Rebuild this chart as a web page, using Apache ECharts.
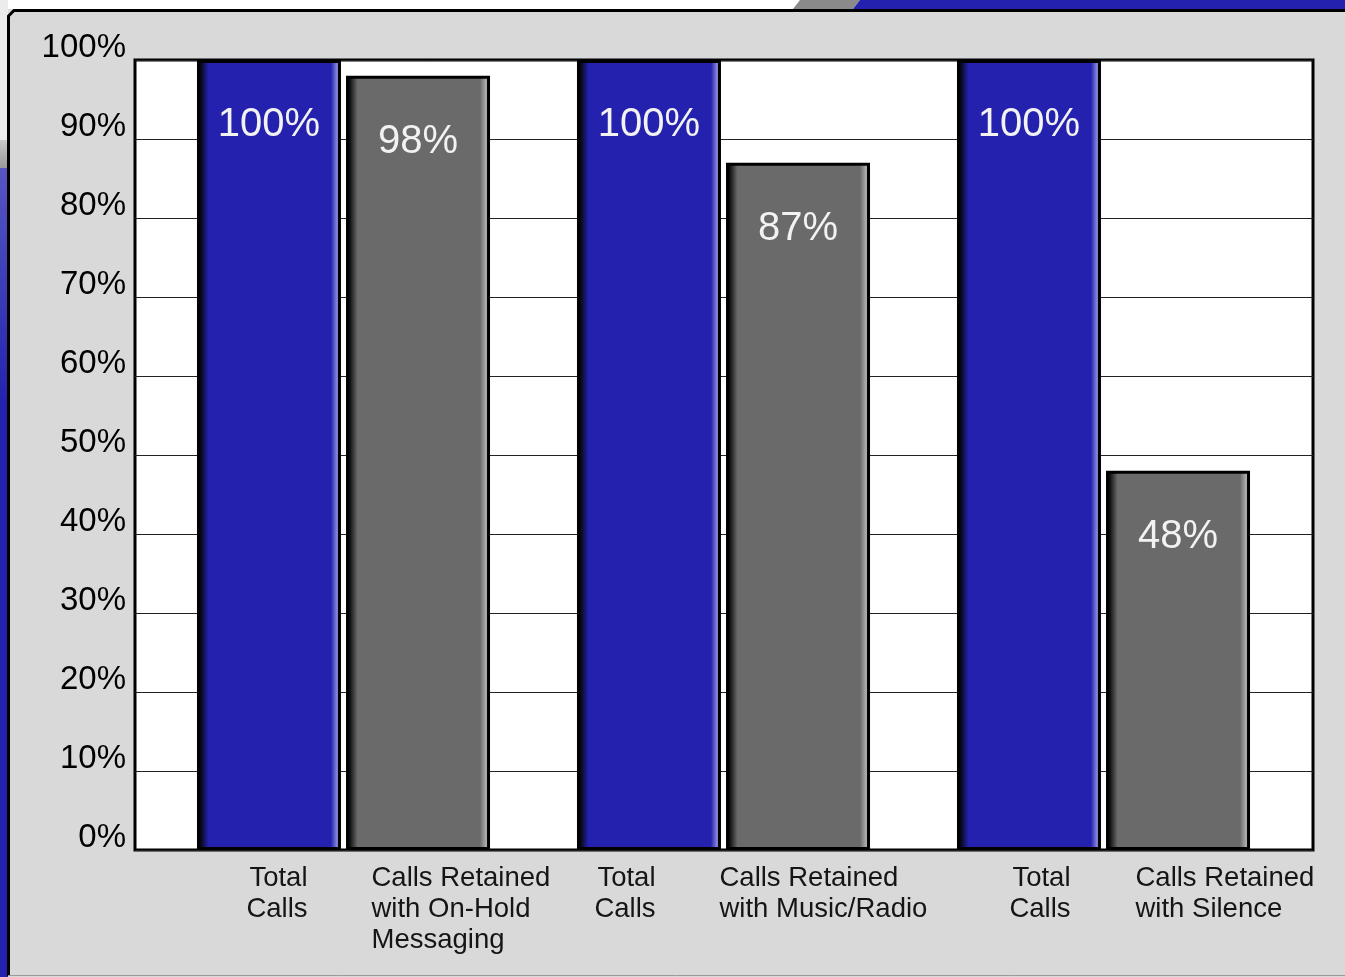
<!DOCTYPE html>
<html>
<head>
<meta charset="utf-8">
<style>
  html, body { margin: 0; padding: 0; background: #d9d9d9; }
  #retentionChart { width: 1345px; height: 977px; }
</style>
<script src="https://cdn.jsdelivr.net/npm/echarts@6/dist/echarts.min.js"></script>
</head>
<body>
<div id="retentionChart"></div>
<script>
// === DATA ===
const groups = ['On-Hold Messaging', 'Music/Radio', 'Silence'];
const totalLabels = ['Total\nCalls', 'Total\nCalls', 'Total\nCalls'];
const retainedLabels = [
    'Calls Retained\nwith On-Hold\nMessaging',
    'Calls Retained\nwith Music/Radio',
    'Calls Retained\nwith Silence'
];
const totalCalls = [100, 100, 100];
const callsRetained = [98, 87, 48];
const yMin = 0, yMax = 100, yStep = 10;

// label nudges (px) so the captions sit where the original text boxes are
const totalShift = [36, 68, 33];
const retainedShift = [32, 0, 36];

const FONT = '"Liberation Sans", Arial, sans-serif';
const BLUE = '#2321ad';
const GRAY = '#6b6a6b';

if (typeof echarts !== 'undefined') {
    const chartDom = document.getElementById('retentionChart');
    const chart = echarts.init(chartDom);

    const barFill = (base, light) => new echarts.graphic.LinearGradient(0, 0, 1, 0, [
        { offset: 0, color: '#000' },
        { offset: 0.02, color: '#050505' },
        { offset: 0.08, color: base },
        { offset: 0.93, color: base },
        { offset: 0.97, color: light },
        { offset: 1, color: light }
    ]);

    const plotGrid = { left: 135, top: 60, width: 1178, height: 790 };
    const barGrid = { left: 153.5, top: 60, width: 1140, height: 790 };
    const captionGrid = { left: 149.5, top: 60, width: 1140, height: 790 };

    const hiddenY = (gridIndex) => ({
        type: 'value', gridIndex, min: yMin, max: yMax, interval: yStep, show: false
    });

    const captionStyle = {
        fontFamily: FONT, fontSize: 27.5, lineHeight: 31, color: '#151515', margin: 13
    };

    const option = {
        backgroundColor: '#d9d9d9',
        animation: false,
        grid: [
            Object.assign({ show: true, backgroundColor: '#fff', borderColor: '#000', borderWidth: 3 }, plotGrid),
            Object.assign({}, barGrid),
            Object.assign({}, captionGrid)
        ],
        xAxis: [
            { type: 'category', gridIndex: 0, data: groups, show: false },
            {
                type: 'category', gridIndex: 1, position: 'bottom',
                data: totalLabels.map((v, i) => ({
                    value: v, textStyle: { align: 'right', padding: [0, totalShift[i], 0, 0] }
                })),
                axisLine: { show: false }, axisTick: { show: false },
                axisLabel: Object.assign({ align: 'right', interval: 0 }, captionStyle)
            },
            {
                type: 'category', gridIndex: 2, position: 'bottom',
                data: retainedLabels.map((v, i) => ({
                    value: v, textStyle: { align: 'left', padding: [0, 0, 0, retainedShift[i]] }
                })),
                axisLine: { show: false }, axisTick: { show: false },
                axisLabel: Object.assign({ align: 'left', interval: 0 }, captionStyle)
            }
        ],
        yAxis: [
            {
                type: 'value', gridIndex: 0, min: yMin, max: yMax, interval: yStep,
                axisLine: { show: false }, axisTick: { show: false },
                axisLabel: {
                    formatter: '{value}%', fontFamily: FONT, fontSize: 33, color: '#000',
                    margin: 9, verticalAlign: 'bottom', lineHeight: 24
                },
                splitLine: { lineStyle: { color: '#222', width: 1 } }
            },
            hiddenY(1),
            hiddenY(2)
        ],
        series: [
            {
                name: 'Total Calls', type: 'bar', xAxisIndex: 1, yAxisIndex: 1,
                data: totalCalls, barWidth: 144, barGap: '3.5%',
                itemStyle: { color: barFill(BLUE, '#8282da'), borderColor: '#000', borderWidth: 3 },
                label: {
                    show: true, position: 'insideTop', distance: 45, formatter: '{c}%',
                    color: '#f2f2f2', fontFamily: FONT, fontSize: 40
                }
            },
            {
                name: 'Calls Retained', type: 'bar', xAxisIndex: 1, yAxisIndex: 1,
                data: callsRetained, barWidth: 144,
                itemStyle: { color: barFill(GRAY, '#a9a9a9'), borderColor: '#000', borderWidth: 3 },
                label: {
                    show: true, position: 'insideTop', distance: 46, formatter: '{c}%',
                    color: '#f2f2f2', fontFamily: FONT, fontSize: 40
                }
            }
        ],
        graphic: [
            // slide decoration around the frame
            { type: 'rect', shape: { x: 0, y: 0, width: 1345, height: 9 }, style: { fill: '#fff' } },
            { type: 'rect', shape: { x: 0, y: 0, width: 8, height: 140 }, style: { fill: '#ececec' } },
            {
                type: 'rect', shape: { x: 0, y: 140, width: 8, height: 28 },
                style: { fill: new echarts.graphic.LinearGradient(0, 0, 0, 1, [
                    { offset: 0, color: '#c8c8c8' }, { offset: 1, color: '#9a9a9a' }
                ]) }
            },
            {
                type: 'rect', shape: { x: 0, y: 168, width: 8, height: 809 },
                style: { fill: new echarts.graphic.LinearGradient(0, 0, 0, 1, [
                    { offset: 0, color: '#5656c4' }, { offset: 0.3, color: BLUE }, { offset: 1, color: BLUE }
                ]) }
            },
            { type: 'polygon', shape: { points: [[793, 9], [800, 0], [860, 0], [853, 9]] }, style: { fill: '#8a8a8a' } },
            { type: 'polygon', shape: { points: [[853, 9], [860, 0], [1345, 0], [1345, 9]] }, style: { fill: BLUE } },
            {
                type: 'polyline', shape: { points: [[8.5, 976], [8.5, 16], [14, 10.5], [1345, 10.5]] },
                style: { stroke: '#000', lineWidth: 3, fill: null }
            },
            {
                type: 'line', shape: { x1: 8, y1: 975.5, x2: 1345, y2: 975.5 },
                style: { stroke: '#9a9a9a', lineWidth: 1 }
            }
        ]
    };

    chart.setOption(option);
    window.addEventListener('resize', () => chart.resize());
}
</script>
</body>
</html>
